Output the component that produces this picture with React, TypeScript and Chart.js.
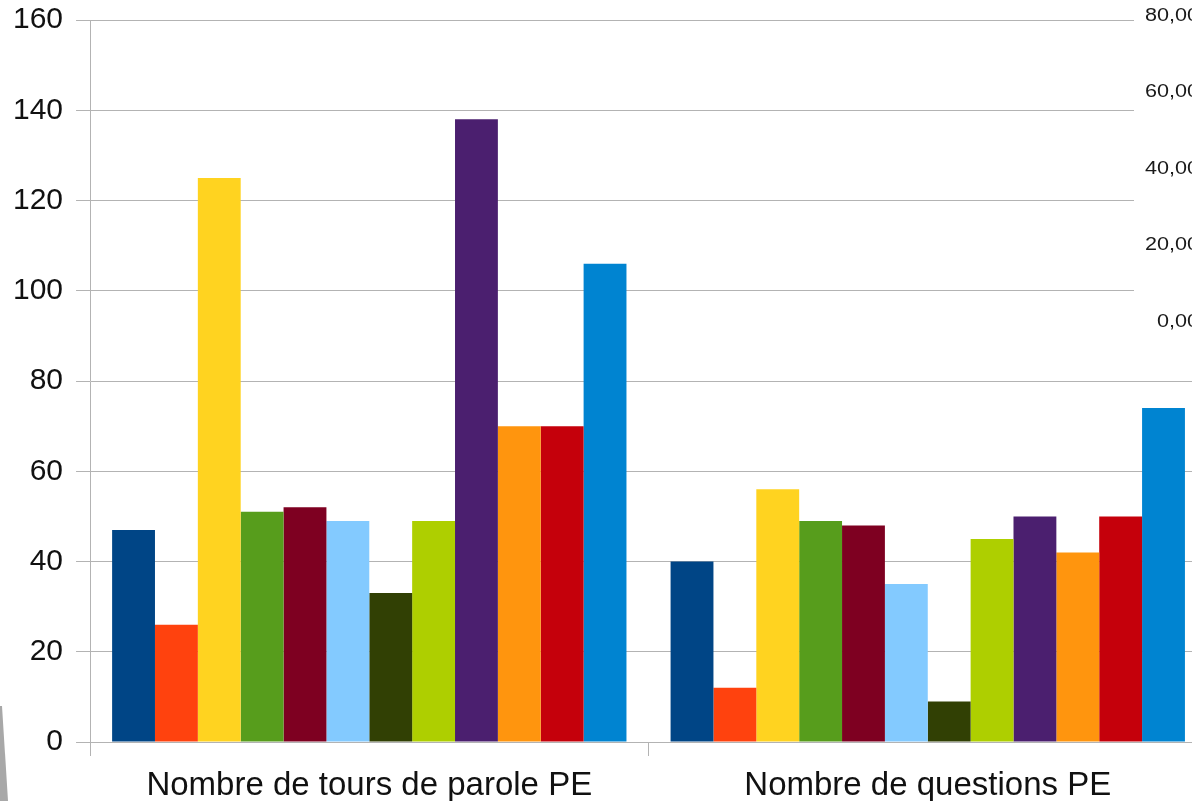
import React, { useEffect, useRef } from "react";
import { Chart, registerables } from "chart.js";

Chart.register(...registerables);

const categories = ["Nombre de tours de parole PE", "Nombre de questions PE"];
const seriesNames = [
  "Série 1", "Série 2", "Série 3", "Série 4", "Série 5", "Série 6",
  "Série 7", "Série 8", "Série 9", "Série 10", "Série 11", "Série 12",
];
const seriesValues: number[][] = [
  [47, 40],
  [26, 12],
  [125, 56],
  [51, 49],
  [52, 48],
  [49, 35],
  [33, 9],
  [49, 45],
  [138, 50],
  [70, 42],
  [70, 50],
  [106, 74],
];
const seriesColors = [
  "#004586", "#ff420e", "#ffd320", "#579d1c", "#7e0021", "#83caff",
  "#314004", "#aecf00", "#4b1f6f", "#ff950e", "#c5000b", "#0084d1",
];
const rightTickLabels = ["80,00", "60,00", "40,00", "20,00", "0,00"];

const FONT = "'Liberation Sans', Arial, sans-serif";
const GRID = "#b3b3b3";

const overlayPlugin = {
  id: "overlay",
  afterDraw(chart: any) {
    const ctx = chart.ctx;
    ctx.save();
    // white panel hiding the upper right grid, as in the source
    ctx.fillStyle = "#ffffff";
    ctx.fillRect(1134, 0, chart.width - 1134, 345);
    // secondary labels
    ctx.fillStyle = "#1a1a1a";
    ctx.font = '18px "Liberation Sans"';
    ctx.textAlign = "right";
    ctx.textBaseline = "middle";
    rightTickLabels.forEach((lbl, i) => {
      const y = 16 + i * 76.5;
      ctx.save();
      ctx.translate(1199, y);
      ctx.scale(1.2, 1);
      ctx.fillText(lbl, 0, 0);
      ctx.restore();
    });
    // grey wedge bottom-left
    ctx.fillStyle = "#a8a8a8";
    ctx.beginPath();
    ctx.moveTo(0, 706);
    ctx.lineTo(2, 706);
    ctx.lineTo(8, 801);
    ctx.lineTo(0, 801);
    ctx.closePath();
    ctx.fill();
    ctx.restore();
  },
};

export default function App() {
  const ref = useRef<HTMLCanvasElement | null>(null);
  useEffect(() => {
    if (!ref.current) return;
    const chart = new Chart(ref.current, {
      type: "bar",
      data: {
        labels: categories,
        datasets: seriesValues.map((vals, i) => ({
          label: seriesNames[i],
          data: vals,
          backgroundColor: seriesColors[i],
          borderWidth: 0,
          barPercentage: 1.0,
          categoryPercentage: 0.921,
        })),
      },
      options: {
        responsive: false,
        animation: false,
        layout: { padding: { left: 0, right: 13, top: 20, bottom: 0 } },
        plugins: { legend: { display: false }, tooltip: { enabled: false } },
        scales: {
          x: {
            offset: true,
            afterFit: (s: any) => {
              s.height = 59;
            },
            grid: {
              offset: true,
              drawOnChartArea: false,
              drawTicks: true,
              tickLength: 14,
              color: GRID,
            },
            border: { display: true, color: GRID },
            ticks: {
              color: "#111",
              font: { family: FONT, size: 33 },
              padding: 10,
            },
          },
          y: {
            min: 0,
            max: 160,
            afterFit: (s: any) => {
              s.paddingTop = 0;
              s.paddingBottom = 0;
            },
            ticks: {
              stepSize: 20,
              color: "#111",
              font: { family: FONT, size: 30 },
              padding: 13,
            },
            grid: { color: GRID, tickLength: 14 },
            border: { display: true, color: GRID },
          },
        },
      },
      plugins: [overlayPlugin],
    });
    return () => chart.destroy();
  }, []);
  return (
    <div
      style={{
        position: "fixed",
        left: 0,
        top: 0,
        width: 1192,
        height: 801,
        overflow: "hidden",
        background: "#fff",
      }}
    >
      <canvas ref={ref} width={1220} height={801} style={{ display: "block" }} />
    </div>
  );
}
